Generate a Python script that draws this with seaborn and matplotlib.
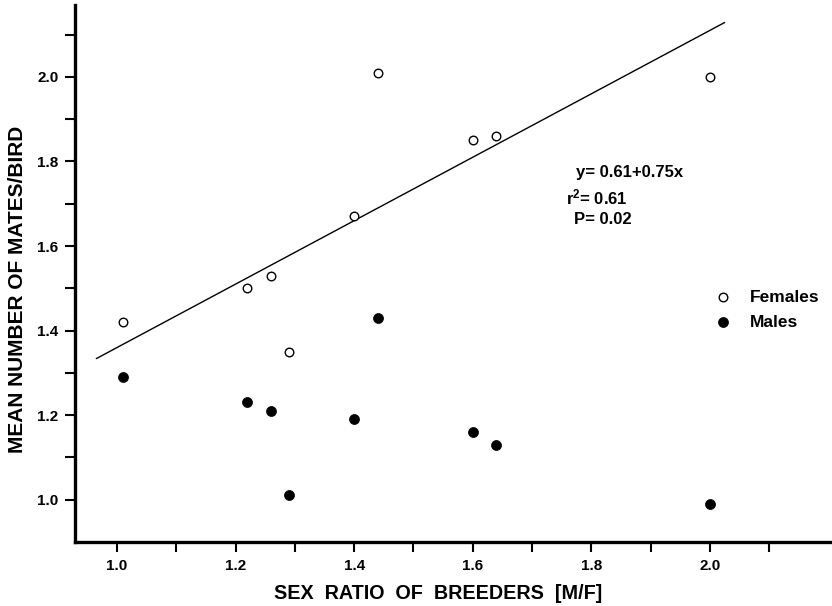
import numpy as np
import pandas as pd
import matplotlib
matplotlib.use('Agg')
import matplotlib.pyplot as plt
import seaborn as sns
from matplotlib.ticker import FixedLocator

# sex ratio of breeders (M/F) per site
sex_ratio = [1.01, 1.22, 1.26, 1.29, 1.40, 1.44, 1.60, 1.64, 2.00]
# mean number of mates per bird
females = [1.42, 1.50, 1.53, 1.35, 1.67, 2.01, 1.85, 1.86, 2.00]
males = [1.29, 1.23, 1.21, 1.01, 1.19, 1.43, 1.16, 1.13, 0.99]

# published regression for females
fit_a, fit_b = 0.61, 0.75
fit_x = [0.965, 2.025]

x_major = [1.0, 1.2, 1.4, 1.6, 1.8, 2.0]
x_minor = [1.1, 1.3, 1.5, 1.7, 1.9, 2.1]
y_major = [1.0, 1.2, 1.4, 1.6, 1.8, 2.0]
y_minor = [1.1, 1.3, 1.5, 1.7, 1.9, 2.1]

df = pd.DataFrame({
    'ratio': sex_ratio * 2,
    'mates': females + males,
    'sex': ['Females'] * len(females) + ['Males'] * len(males),
})

sns.set_style('ticks')
plt.rcParams['font.family'] = ['Liberation Sans', 'DejaVu Sans']
plt.rcParams['mathtext.default'] = 'regular'
plt.rcParams['text.color'] = 'black'
plt.rcParams['axes.labelcolor'] = 'black'
plt.rcParams['xtick.color'] = 'black'
plt.rcParams['ytick.color'] = 'black'

fig = plt.figure(figsize=(8.32, 6.06), dpi=100)
ax = fig.add_axes([0.0901, 0.1056, 0.9099, 0.8861])

fem = df[df.sex == 'Females']
mal = df[df.sex == 'Males']
sns.scatterplot(data=fem, x='ratio', y='mates', ax=ax, s=38, marker='o',
                facecolor='white', edgecolor='black', linewidth=1.0,
                label='Females', zorder=3)
sns.scatterplot(data=mal, x='ratio', y='mates', ax=ax, s=52, marker='o',
                color='black', edgecolor='black', linewidth=0.5,
                label='Males', zorder=3)

lx = np.array(fit_x)
sns.lineplot(x=lx, y=fit_a + fit_b * lx, ax=ax, color='black', lw=1.0, zorder=2)

ax.set_xlim(0.929, 2.206)
ax.set_ylim(0.90, 2.17)
ax.set_xticks(x_major)
ax.set_yticks(y_major)
ax.xaxis.set_minor_locator(FixedLocator(x_minor))
ax.yaxis.set_minor_locator(FixedLocator(y_minor))
ax.tick_params(which='both', direction='out', length=7, width=1.5,
               color='black', labelcolor='black')
ax.tick_params(which='major', labelsize=11, pad=5)
for t in ax.get_xticklabels() + ax.get_yticklabels():
    t.set_fontweight('bold')

sns.despine(ax=ax)
for side in ['left', 'bottom']:
    ax.spines[side].set_linewidth(2.4)
    ax.spines[side].set_color('black')

ax.set_xlabel('SEX  RATIO  OF  BREEDERS  [M/F]', fontsize=14.2,
              fontweight='bold', va='center', color='black')
ax.xaxis.set_label_coords(0.48, -0.095)
ax.set_ylabel('MEAN NUMBER OF MATES/BIRD', fontsize=15,
              fontweight='bold', va='center', color='black')
ax.yaxis.set_label_coords(-0.076, 0.47)

ax.text(1.775, 1.773, 'y= 0.61+0.75x', fontsize=12, fontweight='bold', va='center')
ax.text(1.758, 1.716, 'r$^{2}$= 0.61', fontsize=12, fontweight='bold', va='center')
ax.text(1.771, 1.662, 'P= 0.02', fontsize=12, fontweight='bold', va='center')

leg = ax.legend(loc='upper left', bbox_to_anchor=(0.858, 0.522),
                bbox_transform=fig.transFigure, frameon=False,
                borderpad=0, borderaxespad=0,
                prop={'weight': 'bold', 'size': 12.5}, handletextpad=1.1,
                labelspacing=0.55, handlelength=1.0)
for t in leg.get_texts():
    t.set_color('black')

fig.savefig('out.png', dpi=100)
